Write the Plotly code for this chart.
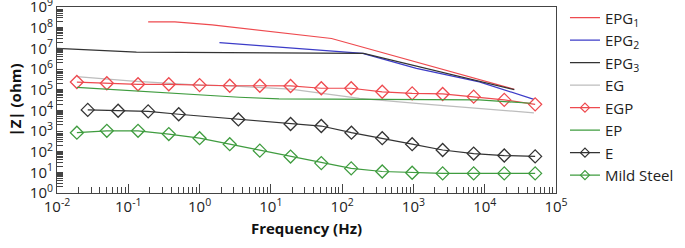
import plotly.graph_objects as go

# ---- data ----
epg1_f = [0.19, 0.45, 1.5, 71, 26000]
epg1_z = [1.9e8, 1.9e8, 1.35e8, 3.0e7, 1.05e5]

epg2_f = [1.9, 194, 1100, 8400, 49000]
epg2_z = [1.9e7, 5.7e6, 1.07e6, 2.4e5, 3.4e4]

epg3_f = [0.01, 0.13, 200, 26000]
epg3_z = [1.0e7, 6.5e6, 5.7e6, 1.0e5]

eg_f = [0.019, 0.115, 1.0, 2.65, 18.9, 53, 175, 1200, 49000]
eg_z = [4.3e5, 2.6e5, 1.66e5, 1.51e5, 1.07e5, 6.6e4, 3.8e4, 2.1e4, 7.6e3]

marker_f = [0.019, 0.05, 0.137, 0.37, 1.0, 2.65, 7.0, 18.9, 51, 134, 365, 960, 2570, 7000, 18800, 51000]
egp_z = [2.34e5, 2.04e5, 1.82e5, 1.82e5, 1.66e5, 1.55e5, 1.55e5, 1.51e5, 1.17e5, 1.17e5,
         7.9e4, 6.6e4, 6.2e4, 4.6e4, 3.2e4, 1.95e4]
ms_z = [830, 1020, 1020, 710, 450, 230, 112, 58, 28, 15.5, 11, 9.5, 8.9, 8.9, 8.9, 8.9]

ep_f = [0.019, 0.115, 1.0, 3.6, 13, 1200, 8400, 44000]
ep_z = [1.29e5, 8.9e4, 6.0e4, 4.3e4, 3.6e4, 3.4e4, 3.2e4, 2.2e4]

e_f = [0.027, 0.072, 0.19, 0.51, 3.5, 18.9, 51, 135, 365, 960, 2570, 7000, 18800, 51000]
e_z = [10500, 9550, 8900, 6450, 3630, 2190, 1740, 830, 450, 230, 120, 81, 65, 59]

x_tickvals = [1e-2, 1e-1, 1e0, 1e1, 1e2, 1e3, 1e4, 1e5]
x_ticktext = ["10<sup>-2</sup>", "10<sup>-1</sup>", "10<sup>0</sup>", "10<sup>1</sup>",
              "10<sup>2</sup>", "10<sup>3</sup>", "10<sup>4</sup>", "10<sup>5</sup>"]
y_tickvals = [10 ** k for k in range(0, 10)]
y_ticktext = ["10<sup>%d</sup>" % k for k in range(0, 10)]

RED = "#ee4a4f"
BLUE = "#3c3cc8"
BLACK = "#333333"
GRAY = "#bdbdbd"
GREEN = "#3f9c3f"

fig = go.Figure()

series = [
    (epg1_f, epg1_z, "EPG<sub>1</sub>", RED, False),
    (epg2_f, epg2_z, "EPG<sub>2</sub>", BLUE, False),
    (epg3_f, epg3_z, "EPG<sub>3</sub>", BLACK, False),
    (eg_f, eg_z, "EG", GRAY, False),
    (marker_f, egp_z, "EGP", RED, True),
    (ep_f, ep_z, "EP", GREEN, False),
    (e_f, e_z, "E", BLACK, True),
    (marker_f, ms_z, "Mild Steel", GREEN, True),
]

for f, z, name, color, mk in series:
    fig.add_trace(go.Scatter(
        x=f, y=z, mode="lines+markers" if mk else "lines", name=name,
        showlegend=False, legendgroup=name,
        line=dict(color=color, width=1.2),
        marker=dict(symbol="diamond-open", size=10, color=color,
                    line=dict(width=1.3, color=color))))

# legend entries (smaller marker samples, like the reference legend)
for f, z, name, color, mk in series:
    fig.add_trace(go.Scatter(
        x=[None], y=[None], mode="lines+markers" if mk else "lines", name=name,
        legendgroup=name, showlegend=True,
        line=dict(color=color, width=1.2),
        marker=dict(symbol="diamond-open", size=7, color=color,
                    line=dict(width=1.2, color=color))))

axis_col = "#444444"
fig.update_xaxes(type="log", range=[-2, 5], tickmode="array",
                 tickvals=x_tickvals, ticktext=x_ticktext,
                 ticks="inside", ticklen=9, tickcolor=axis_col,
                 showline=True, linecolor=axis_col, linewidth=1, mirror=True,
                 showgrid=False, zeroline=False, ticklabeloverflow="allow",
                 tickfont=dict(size=15, color="#222", family="Open Sans"),
                 minor=dict(ticks="inside", ticklen=6, tickcolor=axis_col,
                            dtick="D1", showgrid=False),
                 title=dict(text="<b>Frequency (Hz)</b>",
                            font=dict(size=15, color="#111", family="Open Sans"),
                            standoff=8))
fig.update_yaxes(type="log", range=[0, 9], tickmode="array",
                 tickvals=y_tickvals, ticktext=y_ticktext,
                 ticks="inside", ticklen=6, tickcolor=axis_col,
                 showline=True, linecolor=axis_col, linewidth=1, mirror=True,
                 showgrid=False, zeroline=False, ticklabeloverflow="allow",
                 tickfont=dict(size=15, color="#222", family="Open Sans"),
                 minor=dict(ticks="inside", ticklen=6, tickcolor=axis_col,
                            dtick="D1", showgrid=False),
                 title=dict(text="<b>|Z| (ohm)</b>",
                            font=dict(size=15, color="#111", family="Open Sans"),
                            standoff=4))

fig.update_layout(
    width=685, height=248,
    margin=dict(l=57, r=129, t=7, b=55, autoexpand=False),
    paper_bgcolor="white", plot_bgcolor="white",
    font=dict(family="Open Sans", color="#222"),
    legend=dict(x=1.018, y=1.03, xanchor="left", yanchor="top",
                font=dict(size=15, family="Open Sans", color="#222"),
                bgcolor="rgba(0,0,0,0)", tracegroupgap=0, itemwidth=30,
                maxheight=260),
)

fig.write_html("out.html", config={"displayModeBar": False},
               post_script="document.body.style.margin='0';document.body.style.overflow='hidden';")
